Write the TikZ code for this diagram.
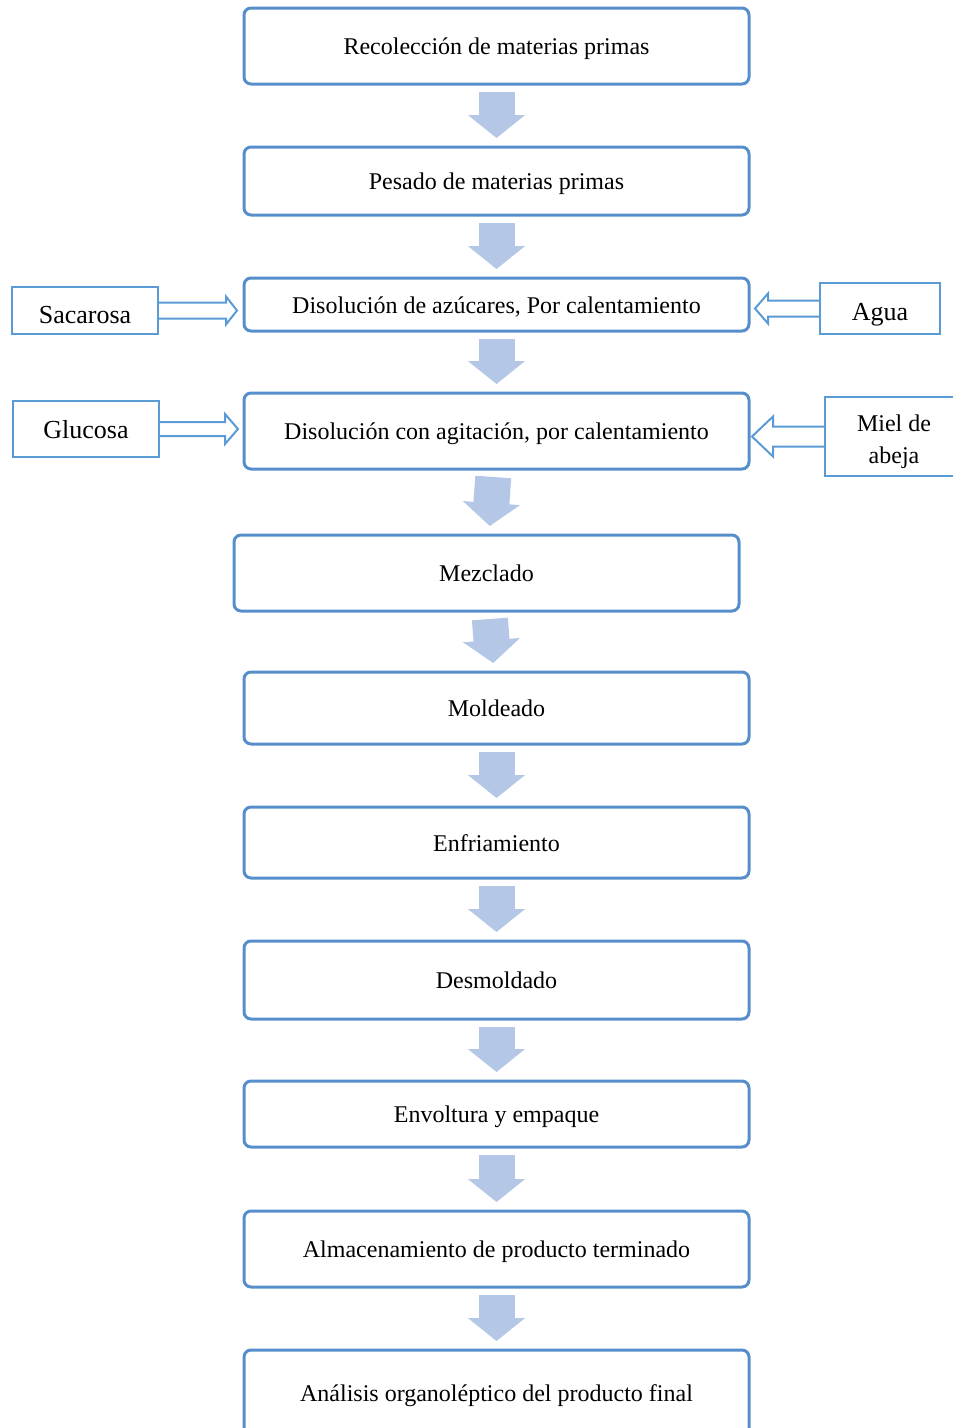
\documentclass[tikz,border=0pt]{standalone}
\usepackage{fontspec}
\setmainfont{Liberation Serif}
\usetikzlibrary{arrows.meta, positioning, calc}

\definecolor{boxblue}{RGB}{86,141,203}
\definecolor{feedblue}{RGB}{91,155,213}
\definecolor{flowblue}{RGB}{180,199,231}

% hollow feed arrow: #1 start, #2 tip, #3 shaft half width, #4 head half width, #5 head length (signed)
\newcommand{\feedarrow}[5]{%
  \draw[feed] ($#1+(0,{-(#3)})$) -- ($#2+({-(#5)},{-(#3)})$)
    -- ($#2+({-(#5)},{-(#4)})$) -- #2 -- ($#2+({-(#5)},#4)$)
    -- ($#2+({-(#5)},#3)$) -- ($#1+(0,#3)$);
}

\begin{document}
\begin{tikzpicture}[
    x=1pt, y=-1pt,
    box/.style={draw=boxblue, line width=3pt, rounded corners=7pt,
                minimum width=505pt, inner sep=0pt, outer sep=0pt,
                text height=17pt, text depth=0pt,
                align=center, font=\fontsize{24}{29}\selectfont},
    feedbox/.style={draw=feedblue, line width=2pt, inner sep=0pt,
                    outer sep=0pt, text depth=0pt, align=center,
                    font=\fontsize{26}{32}\selectfont},
    feed/.style={draw=feedblue, line width=2pt, line join=miter},
    flow/.style={draw=flowblue, line width=36pt,
                 -{Triangle[length=23pt, width=56pt]},
                 shorten <=8pt, shorten >=9pt}
  ]
  \useasboundingbox (0,0) rectangle (953,1428);

  % process steps
  \node[box, minimum height=76pt] (b1) at (496.5,46) {Recolección de materias primas};
  \node[box, minimum height=68pt, below=63pt of b1] (b2) {Pesado de materias primas};
  \node[box, minimum height=53pt, below=63pt of b2] (b3) {Disolución de azúcares, Por calentamiento};
  \node[box, minimum height=76pt, below=62pt of b3] (b4) {Disolución con agitación, por calentamiento};
  \node[box, minimum height=76pt, below=66pt of b4, xshift=-10pt] (b5) {Mezclado};
  \node[box, minimum height=72pt, below=61pt of b5, xshift=10pt] (b6) {Moldeado};
  \node[box, minimum height=71pt, below=63pt of b6] (b7) {Enfriamiento};
  \node[box, minimum height=78pt, below=63pt of b7] (b8) {Desmoldado};
  \node[box, minimum height=66pt, below=62pt of b8] (b9) {Envoltura y empaque};
  \node[box, minimum height=76pt, below=64pt of b9] (b10) {Almacenamiento de producto terminado};
  \node[box, minimum height=86pt, below=63pt of b10] (b11) {Análisis organoléptico del producto final};

  % flow arrows
  \draw[flow] (b1) -- (b2);
  \draw[flow] (b2) -- (b3);
  \draw[flow] (b3) -- (b4);
  \draw[flow] (b4) -- (b5);
  \draw[flow] (b5) -- (b6);
  \draw[flow] (b6) -- (b7);
  \draw[flow] (b7) -- (b8);
  \draw[flow] (b8) -- (b9);
  \draw[flow] (b9) -- (b10);
  \draw[flow] (b10) -- (b11);

  % inputs
  \node[feedbox, minimum width=146pt, minimum height=47pt, text height=25.5pt] (sac) at (85,310.5) {Sacarosa};
  \node[feedbox, minimum width=120pt, minimum height=51pt, text height=23.5pt] (agua) at (880,308.5) {Agua};
  \node[feedbox, minimum width=146pt, minimum height=56pt, text height=18pt] (glu) at (86,429) {Glucosa};
  \node[feedbox, minimum width=138pt, minimum height=79pt, text height=53pt,
        font=\fontsize{24}{32}\selectfont] (miel) at (894,436.5) {Miel de\\abeja};

  \coordinate (tipsac) at ($(b3.west |- sac.east)+(-7,0)$);
  \coordinate (tipagua) at ($(b3.east |- agua.west)+(6,0)$);
  \coordinate (tipglu) at ($(b4.west |- glu.east)+(-6,0)$);
  \coordinate (tipmiel) at ($(b4.east |- miel.west)+(3,0)$);

  \feedarrow{(sac.east)}{(tipsac)}{8}{14}{11}
  \feedarrow{(agua.west)}{(tipagua)}{8}{15}{-13}
  \feedarrow{(glu.east)}{(tipglu)}{7}{15}{13}
  \feedarrow{(miel.west)}{(tipmiel)}{10}{20}{-21}

\end{tikzpicture}
\end{document}
